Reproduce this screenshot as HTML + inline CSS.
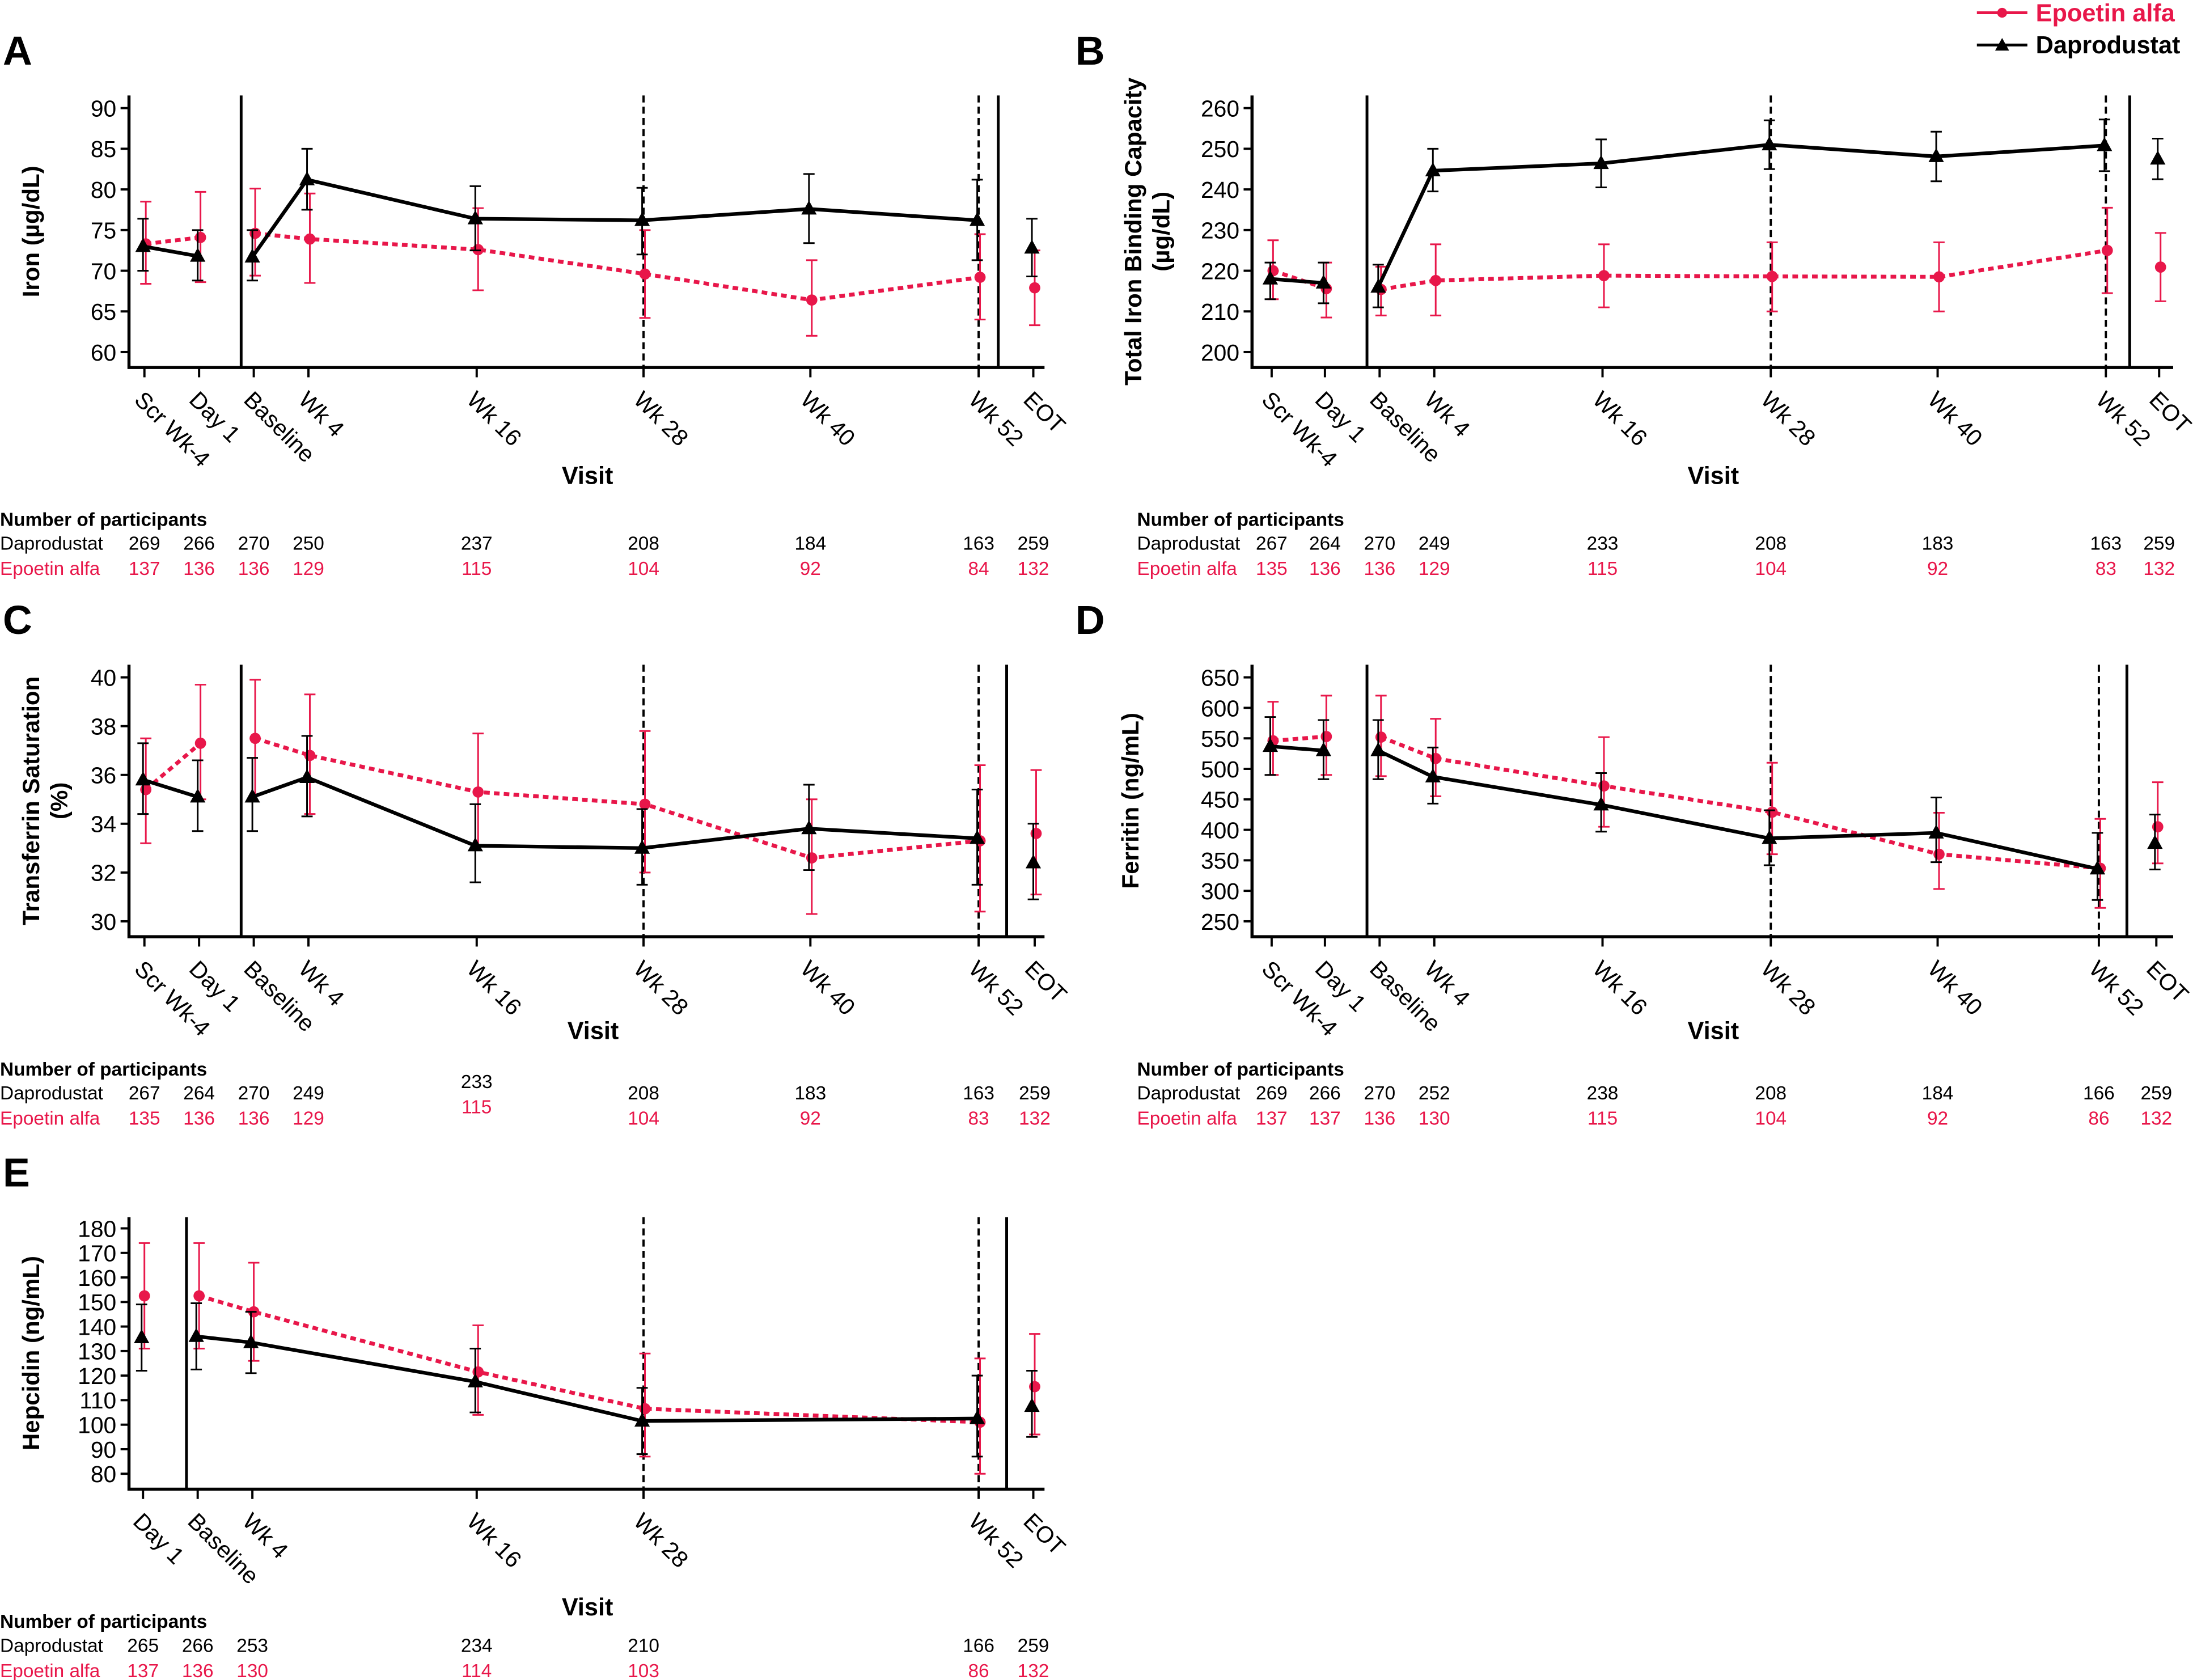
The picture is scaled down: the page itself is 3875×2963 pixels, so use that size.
<!DOCTYPE html>
<html><head><meta charset="utf-8"><style>
html,body{margin:0;padding:0;background:#fff;}
svg{display:block;font-family:"Liberation Sans",Arial,sans-serif;}
</style></head><body>
<svg id="chart" width="3875" height="2963" viewBox="0 0 1567 1198" xmlns="http://www.w3.org/2000/svg">
<g id="legend">
  <g>
    <line x1="1410" y1="9" x2="1446" y2="9" stroke="#e8174a" stroke-width="2"/>
    <circle cx="1428" cy="9" r="3.5" fill="#e8174a"/>
    <text x="1452" y="15" font-size="17.5" font-weight="bold" fill="#e8174a">Epoetin alfa</text>
  </g>
  <g>
    <line x1="1410" y1="32" x2="1446" y2="32" stroke="#000" stroke-width="2"/>
    <path d="M1428,27 L1433,36 L1423,36 Z" fill="#000"/>
    <text x="1452" y="38" font-size="17.5" font-weight="bold" fill="#000">Daprodustat</text>
  </g>
</g>
</svg>
<script>
// ---- Panel A: Iron ----
const catsA = ["Scr Wk-4","Day 1","Baseline","Wk 4","Wk 16","Wk 28","Wk 40","Wk 52","EOT"];
const dapA = [73.0,71.8,71.7,81.2,76.4,76.2,77.6,76.2,72.8];
const dapLoA = [70.0,68.8,68.8,77.5,72.5,72.0,73.4,71.3,69.3];
const dapHiA = [76.4,75.0,75.0,85.0,80.4,80.2,81.9,81.2,76.4];
const epoA = [73.3,74.1,74.6,73.9,72.6,69.6,66.4,69.2,67.9];
const epoLoA = [68.4,68.6,69.4,68.5,67.6,64.2,62.0,64.0,63.3];
const epoHiA = [78.5,79.7,80.1,79.5,77.7,75.0,71.3,74.5,72.5];
const ticksA = [60,65,70,75,80,85,90];
const nDapA = ["269","266","270","250","237","208","184","163","259"];
const nEpoA = ["137","136","136","129","115","104","92","84","132"];
// ---- Panel B: TIBC ----
const catsB = catsA;
const dapB = [218,217,216,244.6,246.4,251,248.1,250.8,247.5];
const dapLoB = [213,212,211,239.5,240.5,245,242,244.5,242.5];
const dapHiB = [222,222,221.5,250,252.3,257,254.2,257.2,252.5];
const epoB = [220,215.6,215.4,217.6,218.8,218.6,218.5,225,220.9];
const epoLoB = [213,208.5,209,209,211,210,210,214.5,212.5];
const epoHiB = [227.5,222,221,226.5,226.5,227,227,235.5,229.3];
const ticksB = [200,210,220,230,240,250,260];
const nDapB = ["267","264","270","249","233","208","183","163","259"];
const nEpoB = ["135","136","136","129","115","104","92","83","132"];
// ---- Panel C: TSAT ----
const catsC = catsA;
const dapC = [35.8,35.1,35.1,35.9,33.1,33.0,33.8,33.4,32.4];
const dapLoC = [34.4,33.7,33.7,34.3,31.6,31.5,32.1,31.5,30.9];
const dapHiC = [37.3,36.6,36.7,37.6,34.8,34.6,35.6,35.4,34.0];
const epoC = [35.4,37.3,37.5,36.8,35.3,34.8,32.6,33.3,33.6];
const epoLoC = [33.2,35.0,35.2,34.4,33.1,32.0,30.3,30.4,31.1];
const epoHiC = [37.5,39.7,39.9,39.3,37.7,37.8,35.0,36.4,36.2];
const ticksC = [30,32,34,36,38,40];
const nDapC = ["267","264","270","249","233","208","183","163","259"];
const nEpoC = ["135","136","136","129","115","104","92","83","132"];
// ---- Panel D: Ferritin ----
const catsD = catsA;
const dapD = [537,530,530,487,441,386,395,336,378];
const dapLoD = [490,483,483,443,397,342,347,285,335];
const dapHiD = [585,580,580,535,493,432,453,395,425];
const epoD = [546,553,552,517,472,429,360,337,405];
const epoLoD = [490,490,488,455,405,360,303,272,345];
const epoHiD = [610,620,620,582,552,510,428,418,478];
const ticksD = [250,300,350,400,450,500,550,600,650];
const nDapD = ["269","266","270","252","238","208","184","166","259"];
const nEpoD = ["137","137","136","130","115","104","92","86","132"];
// ---- Panel E: Hepcidin ----
const catsE = ["Day 1","Baseline","Wk 4","Wk 16","Wk 28","Wk 52","EOT"];
const dapE = [135.5,136,133.5,117.5,101.5,102.5,107.5];
const dapLoE = [122,122.5,121,105,88,87,95];
const dapHiE = [149,149.5,146,131,115,120,122];
const epoE = [152.5,152.5,146,121.5,106.5,101,115.5];
const epoLoE = [131,131,126,104,87,80,96];
const epoHiE = [174,174,166,140.5,129,127,137];
const ticksE = [80,90,100,110,120,130,140,150,160,170,180];
const nDapE = ["265","266","253","234","210","166","259"];
const nEpoE = ["137","136","130","114","103","86","132"];

const NS = "http://www.w3.org/2000/svg";
const svg = document.getElementById("chart");
const RED = "#e8174a";
function mk(tag, attrs, parent) {
  const el = document.createElementNS(NS, tag);
  for (const k in attrs) el.setAttribute(k, attrs[k]);
  (parent || svg).appendChild(el);
  return el;
}
const panels = [
 {id:"a",letter:"A",lx:2,ox:92,right:745,top:68,y0:77,y1:251,bot:262,tmin:60,tmax:90,ticks:ticksA,cats:catsA,
  slots:[103,142,181,220,340,459,578,698,737],solid:[172,712],dashed:[459,698],seg:[[0,1],[2,7]],
  dap:dapA,dl:dapLoA,dh:dapHiA,epo:epoA,el:epoLoA,eh:epoHiA,nd:nDapA,ne:nEpoA,ylab:["Iron (µg/dL)"],ylx:30,
  visitX:419,visitY:345,tx:0,ty:375},
 {id:"b",letter:"B",lx:767,ox:893,right:1550,top:68,y0:77,y1:251,bot:262,tmin:200,tmax:260,ticks:ticksB,cats:catsB,
  slots:[907,945,984,1023,1143,1263,1382,1502,1540],solid:[975,1519],dashed:[1263,1502],seg:[[0,1],[2,7]],
  dap:dapB,dl:dapLoB,dh:dapHiB,epo:epoB,el:epoLoB,eh:epoHiB,nd:nDapB,ne:nEpoB,ylab:["Total Iron Binding Capacity","(µg/dL)"],ylx:814,
  visitX:1222,visitY:345,tx:811,ty:375},
 {id:"c",letter:"C",lx:2,ox:92,right:745,top:474,y0:483,y1:657,bot:668,tmin:30,tmax:40,ticks:ticksC,cats:catsC,
  slots:[103,142,181,220,340,459,578,698,738],solid:[172,718],dashed:[459,698],seg:[[0,1],[2,7]],
  dap:dapC,dl:dapLoC,dh:dapHiC,epo:epoC,el:epoLoC,eh:epoHiC,nd:nDapC,ne:nEpoC,ylab:["Transferrin Saturation","(%)"],ylx:28,
  visitX:423,visitY:741,tx:0,ty:767},
 {id:"d",letter:"D",lx:767,ox:893,right:1550,top:474,y0:483,y1:657,bot:668,tmin:250,tmax:650,ticks:ticksD,cats:catsD,
  slots:[907,945,984,1023,1143,1263,1382,1497,1538],solid:[975,1517],dashed:[1263,1497],seg:[[0,1],[2,7]],
  dap:dapD,dl:dapLoD,dh:dapHiD,epo:epoD,el:epoLoD,eh:epoHiD,nd:nDapD,ne:nEpoD,ylab:["Ferritin (ng/mL)"],ylx:814,
  visitX:1222,visitY:741,tx:811,ty:767},
 {id:"e",letter:"E",lx:2,ox:92,right:745,top:868,y0:876,y1:1051,bot:1062,tmin:80,tmax:180,ticks:ticksE,cats:catsE,
  slots:[102,141,180,340,459,698,737],solid:[133,718],dashed:[459,698],seg:[[1,5]],
  dap:dapE,dl:dapLoE,dh:dapHiE,epo:epoE,el:epoLoE,eh:epoHiE,nd:nDapE,ne:nEpoE,ylab:["Hepcidin (ng/mL)"],ylx:30,
  visitX:419,visitY:1152,tx:0,ty:1161}
];

panels.forEach(p => {
  const g = mk("g", {});
  
  
  const ys = v => p.y1 - (v - p.tmin) / (p.tmax - p.tmin) * (p.y1 - p.y0);
  const xs = i => p.slots[i];
  const L = mk("text", {x:p.lx, y:p.top-22, "font-size":29, "font-weight":"bold"}, g);
  L.textContent = p.letter;
  
  
  const ax = mk("path", {d:`M${p.ox},${p.top} V${p.bot} H${p.right}`, fill:"none", stroke:"#000", "stroke-width":2.2}, g);
  
  
  p.ticks.forEach(t => {
    const y = ys(t);
    mk("line", {x1:p.ox-6, x2:p.ox, y1:y, y2:y, stroke:"#000", "stroke-width":1.6}, g);
    const tt = mk("text", {x:p.ox-9, y:y+6, "font-size":16.5, "text-anchor":"end"}, g);
    tt.textContent = t;
    
    
  });
  p.cats.forEach((c, i) => {
    const x = xs(i);
    mk("line", {x1:x, x2:x, y1:p.bot, y2:p.bot+7, stroke:"#000", "stroke-width":1.6}, g);
    const tl = mk("text", {x:x-8, y:p.bot+24, "font-size":16.5, transform:`rotate(45 ${x-8} ${p.bot+24})`}, g);
    tl.textContent = c;
    
    
  });
  p.solid.forEach(x => mk("line", {x1:x, x2:x, y1:p.top, y2:p.bot, stroke:"#000", "stroke-width":2}, g));
  p.dashed.forEach(x => mk("line", {x1:x, x2:x, y1:p.top, y2:p.bot, stroke:"#000", "stroke-width":1.6, "stroke-dasharray":"5,3"}, g));
  const n = p.ylab.length;
  p.ylab.forEach((s, k) => {
    const lx = p.ylx + (k - (n - 1) / 2) * 20 + (n > 1 ? 10 : -2);
    const cy = (p.top + p.bot) / 2;
    const yl = mk("text", {x:lx, y:cy, "font-size":17, "font-weight":"bold", "text-anchor":"middle", transform:`rotate(-90 ${lx} ${cy})`}, g);
    yl.textContent = s;
    
    
  });
  const vt = mk("text", {x:p.visitX, y:p.visitY, "font-size":17.5, "font-weight":"bold", "text-anchor":"middle"}, g);
  vt.textContent = "Visit";
  
  
  const series = [
    {v:p.epo, lo:p.el, hi:p.eh, col:RED, dash:"4,3", name:"epoetin", tri:false, off:1},
    {v:p.dap, lo:p.dl, hi:p.dh, col:"#000", dash:null, name:"daprodustat", tri:true, off:-1}
  ];
  series.forEach(s => {
    const sg = mk("g", {}, g);
    
    
    p.seg.forEach(([a, b]) => {
      let d = "";
      for (let i = a; i <= b; i++) d += (i === a ? "M" : "L") + (xs(i) + s.off) + "," + ys(s.v[i]);
      const ln = mk("path", {d, fill:"none", stroke:s.col, "stroke-width":s.tri ? 2.6 : 2.8}, sg);
      if (s.dash) ln.setAttribute("stroke-dasharray", s.dash);
      
      
    });
    s.v.forEach((v, i) => {
      const x = xs(i) + s.off, y = ys(v), ylo = ys(s.lo[i]), yhi = ys(s.hi[i]);
      const eb = mk("path", {d:`M${x},${ylo} V${yhi} M${x-4},${ylo} H${x+4} M${x-4},${yhi} H${x+4}`, stroke:s.col, "stroke-width":1.2, fill:"none"}, sg);
      
      
      let m;
      if (s.tri) m = mk("path", {d:`M${x},${y-6} L${x+5.5},${y+4} L${x-5.5},${y+4} Z`, fill:"#000"}, sg);
      else m = mk("circle", {cx:x, cy:y, r:4, fill:RED}, sg);
      
      
    });
  });
  const tg = mk("g", {}, g);
  
  
  const h = mk("text", {x:p.tx, y:p.ty, "font-size":13.5, "font-weight":"bold"}, tg);
  h.textContent = "Number of participants";
  const r1 = mk("text", {x:p.tx, y:p.ty+17, "font-size":13.5}, tg);
  r1.textContent = "Daprodustat";
  const r2 = mk("text", {x:p.tx, y:p.ty+35, "font-size":13.5, fill:RED}, tg);
  r2.textContent = "Epoetin alfa";
  p.nd.forEach((nv, i) => {
    const special = (p.id === "c" && i === 4);
    const t1 = mk("text", {x:xs(i), y:p.ty+17 - (special ? 8 : 0), "font-size":13.5, "text-anchor":"middle"}, tg);
    t1.textContent = nv;
    const t2 = mk("text", {x:xs(i), y:p.ty+35 - (special ? 8 : 0), "font-size":13.5, "text-anchor":"middle", fill:RED}, tg);
    t2.textContent = p.ne[i];
  });
});
</script>
</body></html>
